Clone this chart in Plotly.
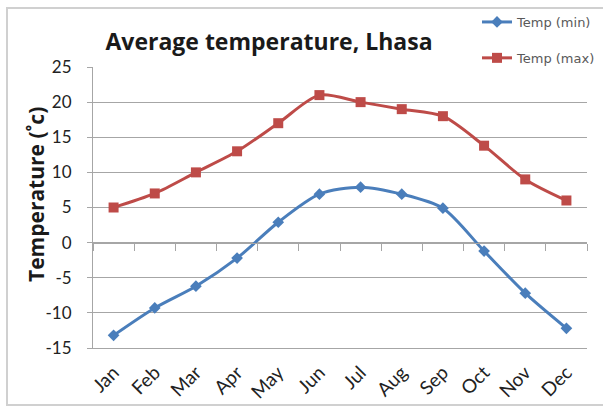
import plotly.graph_objects as go

months = ["Jan", "Feb", "Mar", "Apr", "May", "Jun", "Jul", "Aug", "Sep", "Oct", "Nov", "Dec"]
temp_min = [-13.2, -9.3, -6.2, -2.2, 2.9, 6.9, 7.9, 6.9, 4.9, -1.2, -7.2, -12.2]
temp_max = [5, 7, 10, 13, 17, 21, 20, 19, 18, 13.8, 9, 6]
y_ticks = [-15, -10, -5, 0, 5, 10, 15, 20, 25]
y_tick_text = [str(v) for v in y_ticks]

BLUE = "#4A7EBB"
RED = "#BE4B48"
GRID = "#A6A6A6"
FONT = "Lato"

fig = go.Figure()
fig.add_trace(go.Scatter(
    x=months, y=temp_min, name="Temp (min)", mode="lines+markers",
    line=dict(color=BLUE, width=3, shape="spline", smoothing=0.8),
    marker=dict(symbol="diamond", size=9, color=BLUE),
    legendgroup="a", xaxis="x2", yaxis="y"))
fig.add_trace(go.Scatter(
    x=months, y=temp_max, name="Temp (max)", mode="lines+markers",
    line=dict(color=RED, width=3, shape="spline", smoothing=0.8),
    marker=dict(symbol="square", size=10, color=RED),
    legendgroup="b"))

fig.update_layout(
    width=603, height=408,
    margin=dict(l=93, r=16, t=67, b=60, autoexpand=False),
    paper_bgcolor="white", plot_bgcolor="white",
    font=dict(family=FONT, color="#222222"),
    title=dict(text="<b>Average temperature, Lhasa</b>", x=269/603, xref="container",
               xanchor="center", y=1-42/408, yref="container", yanchor="middle",
               font=dict(size=23, family="Open Sans", color="#1a1a1a")),
    showlegend=True,
    legend=dict(x=477/603, y=1-7/408, xref="container", yref="container",
                xanchor="left", yanchor="top",
                font=dict(size=13, color="#595959", family="DejaVu Sans"),
                tracegroupgap=16, itemwidth=30, bgcolor="rgba(0,0,0,0)"),
    xaxis=dict(type="category", categoryarray=months, range=[-0.5, 11.5],
               showline=True, linecolor=GRID, linewidth=1, ticks="",
               showgrid=False, tickangle=-45, automargin=False,
               ticklabelstandoff=5,
               tickfont=dict(size=19, family=FONT, color="#222222")),
    xaxis2=dict(type="category", categoryarray=months, range=[-0.5, 11.5],
                overlaying="x", anchor="free", position=0.375, side="bottom",
                showline=True, linecolor=GRID, linewidth=1, automargin=False,
                ticks="outside", ticklen=7, tickcolor=GRID, tickson="boundaries",
                showticklabels=False, showgrid=False, zeroline=False),
    yaxis=dict(range=[-15, 25], tickvals=y_ticks, ticktext=y_tick_text,
               showgrid=True, gridcolor=GRID, automargin=False,
               gridwidth=1, zeroline=False, showline=True, linecolor=GRID,
               ticks="outside", ticklen=5, tickcolor=GRID, ticklabelstandoff=12,
               tickfont=dict(size=17, family=FONT, color="#222222")),
    annotations=[dict(text="<b>Temperature (˚c)</b>", textangle=-90,
                      xref="paper", yref="paper", x=(36-93)/494, y=(348-195)/281,
                      xanchor="center", yanchor="middle", showarrow=False,
                      font=dict(size=21, family="Open Sans", color="#1a1a1a"))],
    shapes=[dict(type="rect", xref="paper", yref="paper",
                 x0=(7-93)/494, x1=(620-93)/494, y0=(348-405)/281, y1=(348-8)/281,
                 line=dict(color="#D0D0D0", width=2), fillcolor="rgba(0,0,0,0)",
                 layer="below")],
)

fig.write_html("out.html", config={"displayModeBar": False},
               post_script="document.body.style.margin='0';")
